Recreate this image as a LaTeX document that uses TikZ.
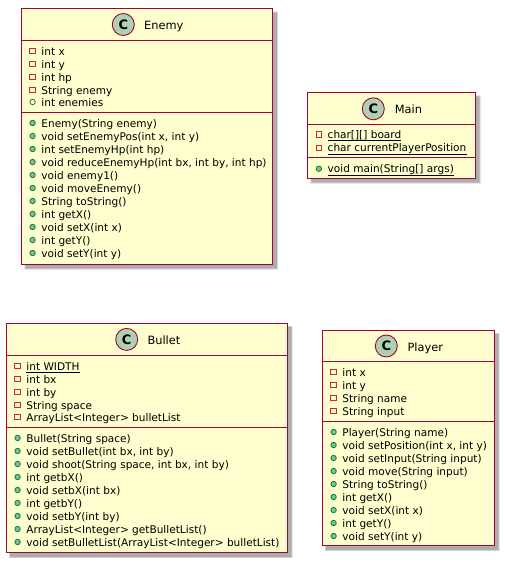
\documentclass[tikz,border=0pt]{standalone}
\usepackage{fontspec}
\setmainfont{DejaVu Sans}
\usetikzlibrary{calc}
\definecolor{boxfill}{HTML}{FEFECE}
\definecolor{boxline}{HTML}{A80036}
\definecolor{circfill}{HTML}{ADD1B2}
\definecolor{privc}{HTML}{C82930}
\definecolor{pubc}{HTML}{84BE84}
\definecolor{publ}{HTML}{038048}
\tikzset{x=1pt,y=-1pt,
 lab/.style={anchor=base west,inner sep=0pt,font=\fontsize{10.55}{12}\selectfont},
 titlelab/.style={anchor=base west,inner sep=0pt,font=\fontsize{11.4}{13}\selectfont},
 classbox/.style={draw=boxline,fill=boxfill,line width=1pt},
 sep/.style={draw=boxline,line width=1pt},
 privm/.style={draw=privc,line width=1pt},
 pubf/.style={draw=publ,fill=none,line width=0.8pt},
 pubm/.style={draw=publ,fill=pubc,line width=0.8pt},
 ulin/.style={draw=black,line width=0.8pt},
 shd/.style={fill=black,opacity=.09}}
\newcommand{\cls}[9]{%
 \fill[shd] (#2+2.5,#3+2.5) rectangle (#4+5.5,#5+5.5);
 \fill[shd] (#2+3,#3+3) rectangle (#4+5,#5+5);
 \fill[shd] (#2+3.5,#3+3.5) rectangle (#4+4.5,#5+4.5);
 \fill[shd] (#2+4,#3+4) rectangle (#4+4,#5+4);
 \draw[classbox] (#2,#3) rectangle (#4,#5);
 \draw[sep] (#2,#6) -- (#4,#6);
 \draw[sep] (#2,#7) -- (#4,#7);
 \node[draw=boxline,fill=circfill,line width=0.9pt,circle,minimum size=22pt,inner sep=0pt] (c#1) at (#8,#3+16) {\fontsize{13}{13}\selectfont\textbf{C}};
 \node[titlelab] (t#1) at (#9,#3+21) {#1};
}
\newcommand{\mem}[5]{%
 \ifnum#2=0 \draw[privm] (#3,#4-6.7) rectangle (#3+5.6,#4-1.1);
 \else\ifnum#2=1 \draw[pubf] (#3+2.9,#4-4) circle (2.7);
 \else \draw[pubm] (#3+2.9,#4-4) circle (2.7); \fi\fi
 \node[lab] (#1) at (#3+11.5,#4) {#5};
}
\newcommand{\ul}[1]{\draw[ulin] (#1.base west)++(0,2.2) -- ($(#1.base east)+(0,2.2)$);}
\begin{document}
\begin{tikzpicture}
\useasboundingbox (0,0) rectangle (504,562);
\fill[white] (0,0) rectangle (504,562);
\cls{Enemy}{21.5}{8.5}{272.5}{264}{40.5}{112.5}{123.3}{144}
\mem{e1}{0}{29.7}{55}{int x}
\mem{e2}{0}{29.7}{68}{int y}
\mem{e3}{0}{29.7}{81}{int hp}
\mem{e4}{0}{29.7}{94}{String enemy}
\mem{e5}{1}{29.7}{106}{int enemies}
\mem{e6}{2}{29.7}{127}{Enemy(String enemy)}
\mem{e7}{2}{29.7}{140}{void setEnemyPos(int x, int y)}
\mem{e8}{2}{29.7}{153}{int setEnemyHp(int hp)}
\mem{e9}{2}{29.7}{166}{void reduceEnemyHp(int bx, int by, int hp)}
\mem{e10}{2}{29.7}{179}{void enemy1()}
\mem{e11}{2}{29.7}{192}{void moveEnemy()}
\mem{e12}{2}{29.7}{205}{String toString()}
\mem{e13}{2}{29.7}{218}{int getX()}
\mem{e14}{2}{29.7}{231}{void setX(int x)}
\mem{e15}{2}{29.7}{244}{int getY()}
\mem{e16}{2}{29.7}{257}{void setY(int y)}
\cls{Main}{307.5}{92.8}{475}{178.3}{124.4}{157.4}{373.3}{394.7}
\mem{m1}{0}{316}{138.5}{char[][] board}\ul{m1}
\mem{m2}{0}{316}{151.7}{char currentPlayerPosition}\ul{m2}
\mem{m3}{2}{316}{172.7}{void main(String[] args)}\ul{m3}
\cls{Bullet}{6.2}{323.4}{287.3}{552.6}{355.6}{427.4}{126.7}{147.3}
\mem{b1}{0}{14.7}{370}{int WIDTH}\ul{b1}
\mem{b2}{0}{14.7}{383}{int bx}
\mem{b3}{0}{14.7}{396}{int by}
\mem{b4}{0}{14.7}{409}{String space}
\mem{b5}{0}{14.7}{421}{ArrayList<Integer> bulletList}
\mem{b6}{2}{14.7}{442}{Bullet(String space)}
\mem{b7}{2}{14.7}{455}{void setBullet(int bx, int by)}
\mem{b8}{2}{14.7}{468}{void shoot(String space, int bx, int by)}
\mem{b9}{2}{14.7}{481}{int getbX()}
\mem{b10}{2}{14.7}{494}{void setbX(int bx)}
\mem{b11}{2}{14.7}{507}{int getbY()}
\mem{b12}{2}{14.7}{520}{void setbY(int by)}
\mem{b13}{2}{14.7}{533}{ArrayList<Integer> getBulletList()}
\mem{b14}{2}{14.7}{546}{void setBulletList(ArrayList<Integer> bulletList)}
\cls{Player}{322.4}{330}{494.3}{545.7}{361.7}{421.4}{386.3}{407.3}
\mem{p1}{0}{330.7}{376}{int x}
\mem{p2}{0}{330.7}{389}{int y}
\mem{p3}{0}{330.7}{402}{String name}
\mem{p4}{0}{330.7}{415}{String input}
\mem{p5}{2}{330.7}{436}{Player(String name)}
\mem{p6}{2}{330.7}{449}{void setPosition(int x, int y)}
\mem{p7}{2}{330.7}{462}{void setInput(String input)}
\mem{p8}{2}{330.7}{475}{void move(String input)}
\mem{p9}{2}{330.7}{488}{String toString()}
\mem{p10}{2}{330.7}{501}{int getX()}
\mem{p11}{2}{330.7}{514}{void setX(int x)}
\mem{p12}{2}{330.7}{527}{int getY()}
\mem{p13}{2}{330.7}{540}{void setY(int y)}
\end{tikzpicture}
\end{document}
